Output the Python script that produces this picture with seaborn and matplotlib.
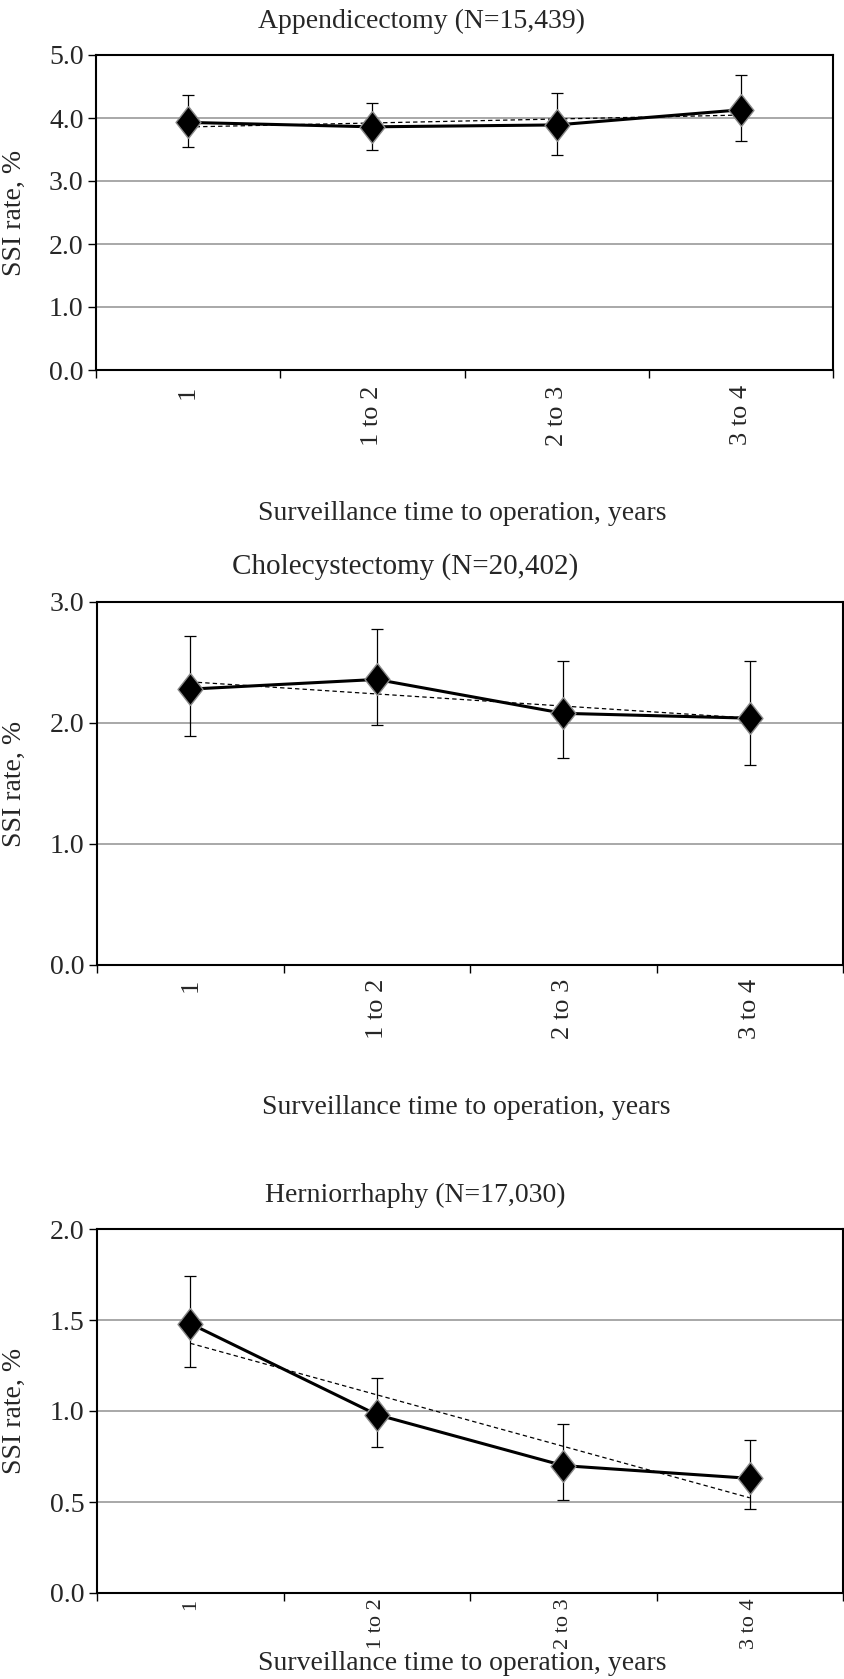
import numpy as np
import pandas as pd
import matplotlib
matplotlib.use("Agg")
import matplotlib.pyplot as plt
from matplotlib.ticker import FormatStrFormatter, MultipleLocator, FixedLocator, NullFormatter, FixedFormatter
import seaborn as sns

# ---------------- data ----------------
categories = ["1", "1 to 2", "2 to 3", "3 to 4"]
titles = ["Appendicectomy (N=15,439)",
          "Cholecystectomy (N=20,402)",
          "Herniorrhaphy (N=17,030)"]
xlabel_text = "Surveillance time to operation, years"
ylabel_text = "SSI rate, %"

appendix_rate = [3.93, 3.86, 3.89, 4.13]
appendix_lo = [3.54, 3.49, 3.42, 3.63]
appendix_hi = [4.36, 4.24, 4.40, 4.69]

chole_rate = [2.28, 2.36, 2.08, 2.04]
chole_lo = [1.89, 1.98, 1.71, 1.65]
chole_hi = [2.72, 2.78, 2.51, 2.51]

hernia_rate = [1.48, 0.98, 0.70, 0.63]
hernia_lo = [1.24, 0.80, 0.51, 0.46]
hernia_hi = [1.74, 1.18, 0.93, 0.84]

y_max = [5.0, 3.0, 2.0]
y_step = [1.0, 1.0, 0.5]

series = [(appendix_rate, appendix_lo, appendix_hi),
          (chole_rate, chole_lo, chole_hi),
          (hernia_rate, hernia_lo, hernia_hi)]

# ---------------- layout (pixels in 844x1679) ----------------
W, H = 844, 1679
# (left, right, top, bottom) of each axes box
boxes = [(96, 833, 55, 370), (97, 843, 602, 965), (97, 843, 1229, 1593)]
title_pos = [(422, 21), (405, 567), (415, 1195)]
title_fs = [20, 21, 20]
xlabel_pos = [(462, 513), (466, 1107), (462, 1664)]
xtick_fs = [19, 19, 16]
xtick_pad = [11, 10, 4]
ylabel_x = 14

sns.set_style("ticks")
plt.rcParams["font.family"] = ["Liberation Serif", "DejaVu Serif"]
FS = 20

# tall diamond marker
diamond = [(0, 1), (0.78, 0), (0, -1), (-0.78, 0), (0, 1)]

fig = plt.figure(figsize=(W / 100, H / 100), dpi=100)
fig.patch.set_facecolor("white")

for i, (rate, lo, hi) in enumerate(series):
    l, r, t, b = boxes[i]
    ax = fig.add_axes([l / W, 1 - b / H, (r - l) / W, (b - t) / H])
    df = pd.DataFrame({"x": np.arange(len(categories)), "rate": rate,
                       "lo": lo, "hi": hi, "cat": categories})

    # error bars (behind markers)
    ax.errorbar(df["x"], df["rate"],
                yerr=[df["rate"] - df["lo"], df["hi"] - df["rate"]],
                fmt="none", ecolor="black", elinewidth=0.9, capsize=4.5,
                capthick=0.9, zorder=2)

    # linear trend (dashed)
    sns.regplot(data=df, x="x", y="rate", ax=ax, scatter=False, ci=None,
                truncate=True,
                line_kws=dict(color="black", lw=0.9, ls=(0, (3.5, 2.5)), zorder=3))

    # observed rates
    sns.lineplot(data=df, x="x", y="rate", ax=ax, color="black", lw=2.2,
                 marker=diamond, markersize=23, markerfacecolor="black",
                 markeredgecolor="#8a8a8a", markeredgewidth=1.0, zorder=4)

    ax.set_xlim(-0.5, len(categories) - 0.5)
    ax.set_ylim(0, y_max[i])
    ax.yaxis.set_major_locator(MultipleLocator(y_step[i]))
    ax.yaxis.set_major_formatter(FormatStrFormatter("%.1f"))

    # boundary ticks (major, unlabeled) and category labels (minor, no tick)
    ax.xaxis.set_major_locator(FixedLocator(np.arange(len(categories) + 1) - 0.5))
    ax.xaxis.set_major_formatter(NullFormatter())
    ax.xaxis.set_minor_locator(FixedLocator(np.arange(len(categories))))
    ax.xaxis.set_minor_formatter(FixedFormatter(categories))
    ax.tick_params(axis="x", which="major", direction="out", length=6, width=1, color="black")
    ax.tick_params(axis="x", which="minor", length=0, pad=xtick_pad[i],
                   labelsize=xtick_fs[i], labelrotation=90)
    for lab in ax.xaxis.get_minorticklabels():
        lab.set_va("top")
        lab.set_ha("center")
    ax.tick_params(axis="y", which="major", direction="out", length=6, width=1,
                   color="black", labelsize=FS, pad=3)

    ax.yaxis.grid(True, color="#a8a8a8", lw=1.4)
    ax.xaxis.grid(False)
    ax.set_axisbelow(True)
    for s in ax.spines.values():
        s.set_visible(True)
        s.set_color("black")
        s.set_linewidth(1.5)
    ax.set_xlabel("")
    ax.set_ylabel("")

    fig.text(title_pos[i][0] / W, 1 - title_pos[i][1] / H, titles[i],
             ha="center", va="center", fontsize=title_fs[i])
    fig.text(xlabel_pos[i][0] / W, 1 - xlabel_pos[i][1] / H, xlabel_text,
             ha="center", va="center", fontsize=FS)
    fig.text(ylabel_x / W, 1 - ((t + b) / 2) / H, ylabel_text,
             ha="center", va="center", rotation=90, fontsize=FS)

fig.savefig("out.png", dpi=100, facecolor="white")
